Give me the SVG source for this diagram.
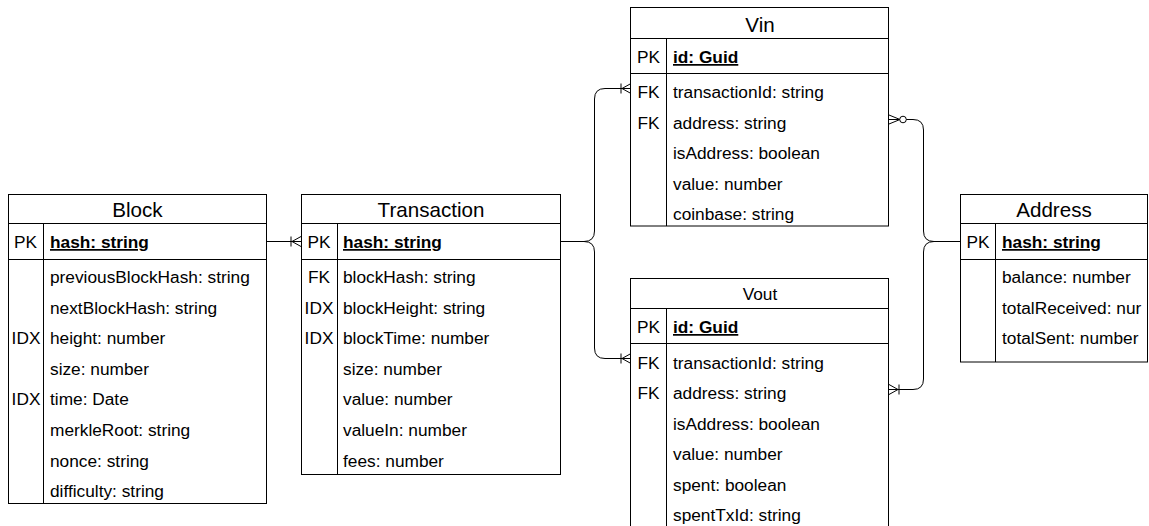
<svg xmlns="http://www.w3.org/2000/svg" width="1149" height="526" viewBox="0 0 1149 526">
<style>
.tb{fill:#fff;stroke:#000;stroke-width:1}
.ln{fill:none;stroke:#000;stroke-width:1}
text{font-family:"Liberation Sans",Arial,sans-serif;fill:#000;font-size:17.3px}
.t{font-size:20.6px;text-anchor:middle}
.k{text-anchor:middle}
.pk{font-weight:bold;text-decoration:underline}
</style>
<defs>
<marker id="oneMany" markerWidth="30" markerHeight="30" refX="0" refY="0" orient="auto-start-reverse" markerUnits="userSpaceOnUse" overflow="visible">
<path d="M-9,0 L0,-5 M-9,0 L0,5 M-10,-5 V5" fill="none" stroke="#000" stroke-width="1"/>
</marker>
<marker id="zeroMany" markerWidth="30" markerHeight="30" refX="0" refY="0" orient="auto-start-reverse" markerUnits="userSpaceOnUse" overflow="visible">
<path d="M-11,0 L0,-4.5 M-11,0 L0,4.5" fill="none" stroke="#000" stroke-width="1"/>
<circle cx="-14" cy="0" r="3.3" fill="#fff" stroke="#000" stroke-width="1"/>
</marker>
</defs>

<g id="connectors">
<path class="ln" d="M267,241.5 H301" marker-end="url(#oneMany)"/>
<path class="ln" d="M561,241.5 H584 Q594.5,241.5 594.5,231 V99 Q594.5,88.5 605,88.5 H631" marker-end="url(#oneMany)"/>
<path class="ln" d="M561,241.5 H584 Q594.5,241.5 594.5,252 V348 Q594.5,358.5 605,358.5 H631" marker-end="url(#oneMany)"/>
<path class="ln" d="M889,119.5 H913 Q923.5,119.5 923.5,130 V231 Q923.5,241.5 934,241.5 H960" marker-start="url(#zeroMany)"/>
<path class="ln" d="M889,389.5 H913 Q923.5,389.5 923.5,379 V252 Q923.5,241.5 934,241.5 H960" marker-start="url(#oneMany)"/>
</g>

<g id="block">
<rect class="tb" x="8.5" y="194.5" width="258" height="309"/>
<path class="ln" d="M8.5,223.5 H266.5 M8.5,259.5 H266.5 M43.5,223.5 V503.5"/>
<text class="t" x="137.5" y="217">Block</text>
<text class="k" x="25.5" y="248">PK</text>
<text class="pk" x="50" y="248">hash: string</text>
<text x="50" y="283">previousBlockHash: string</text>
<text x="50" y="314">nextBlockHash: string</text>
<text class="k" x="26" y="344">IDX</text>
<text x="50" y="344">height: number</text>
<text x="50" y="375">size: number</text>
<text class="k" x="26" y="405">IDX</text>
<text x="50" y="405">time: Date</text>
<text x="50" y="436">merkleRoot: string</text>
<text x="50" y="467">nonce: string</text>
<text x="50" y="497">difficulty: string</text>
</g>

<g id="transaction">
<rect class="tb" x="301.5" y="194.5" width="259" height="280"/>
<path class="ln" d="M301.5,223.5 H560.5 M301.5,259.5 H560.5 M337.5,223.5 V474.5"/>
<text class="t" x="431" y="217">Transaction</text>
<text class="k" x="319" y="248">PK</text>
<text class="pk" x="343" y="248">hash: string</text>
<text class="k" x="319" y="283">FK</text>
<text x="343" y="283">blockHash: string</text>
<text class="k" x="319" y="314">IDX</text>
<text x="343" y="314">blockHeight: string</text>
<text class="k" x="319" y="344">IDX</text>
<text x="343" y="344">blockTime: number</text>
<text x="343" y="375">size: number</text>
<text x="343" y="405">value: number</text>
<text x="343" y="436">valueIn: number</text>
<text x="343" y="467">fees: number</text>
</g>

<g id="vin">
<rect class="tb" x="630.5" y="7.5" width="258" height="218.5"/>
<path class="ln" d="M630.5,38.5 H888.5 M630.5,73.5 H888.5 M666.5,38.5 V226"/>
<text class="t" x="760" y="32">Vin</text>
<text class="k" x="648.5" y="63">PK</text>
<text class="pk" x="673" y="63">id: Guid</text>
<text class="k" x="648.5" y="98">FK</text>
<text x="673" y="98">transactionId: string</text>
<text class="k" x="648.5" y="129">FK</text>
<text x="673" y="129">address: string</text>
<text x="673" y="159">isAddress: boolean</text>
<text x="673" y="190">value: number</text>
<text x="673" y="220">coinbase: string</text>
</g>

<g id="vout">
<rect class="tb" x="630.5" y="278.5" width="258" height="252"/>
<path class="ln" d="M630.5,308.5 H888.5 M630.5,343.5 H888.5 M666.5,308.5 V530"/>
<text class="k" x="760" y="300">Vout</text>
<text class="k" x="648.5" y="333">PK</text>
<text class="pk" x="673" y="333">id: Guid</text>
<text class="k" x="648.5" y="369">FK</text>
<text x="673" y="369">transactionId: string</text>
<text class="k" x="648.5" y="399">FK</text>
<text x="673" y="399">address: string</text>
<text x="673" y="430">isAddress: boolean</text>
<text x="673" y="460">value: number</text>
<text x="673" y="491">spent: boolean</text>
<text x="673" y="521">spentTxId: string</text>
</g>

<g id="address">
<rect class="tb" x="960.5" y="194.5" width="187" height="167.5"/>
<path class="ln" d="M960.5,223.5 H1147.5 M960.5,259.5 H1147.5 M995.5,223.5 V362"/>
<text class="t" x="1054" y="217">Address</text>
<text class="k" x="978" y="248">PK</text>
<text class="pk" x="1002" y="248">hash: string</text>
<text x="1002" y="283">balance: number</text>
<text x="1002" y="314">totalReceived: nur</text>
<text x="1002" y="344">totalSent: number</text>
</g>
</svg>
